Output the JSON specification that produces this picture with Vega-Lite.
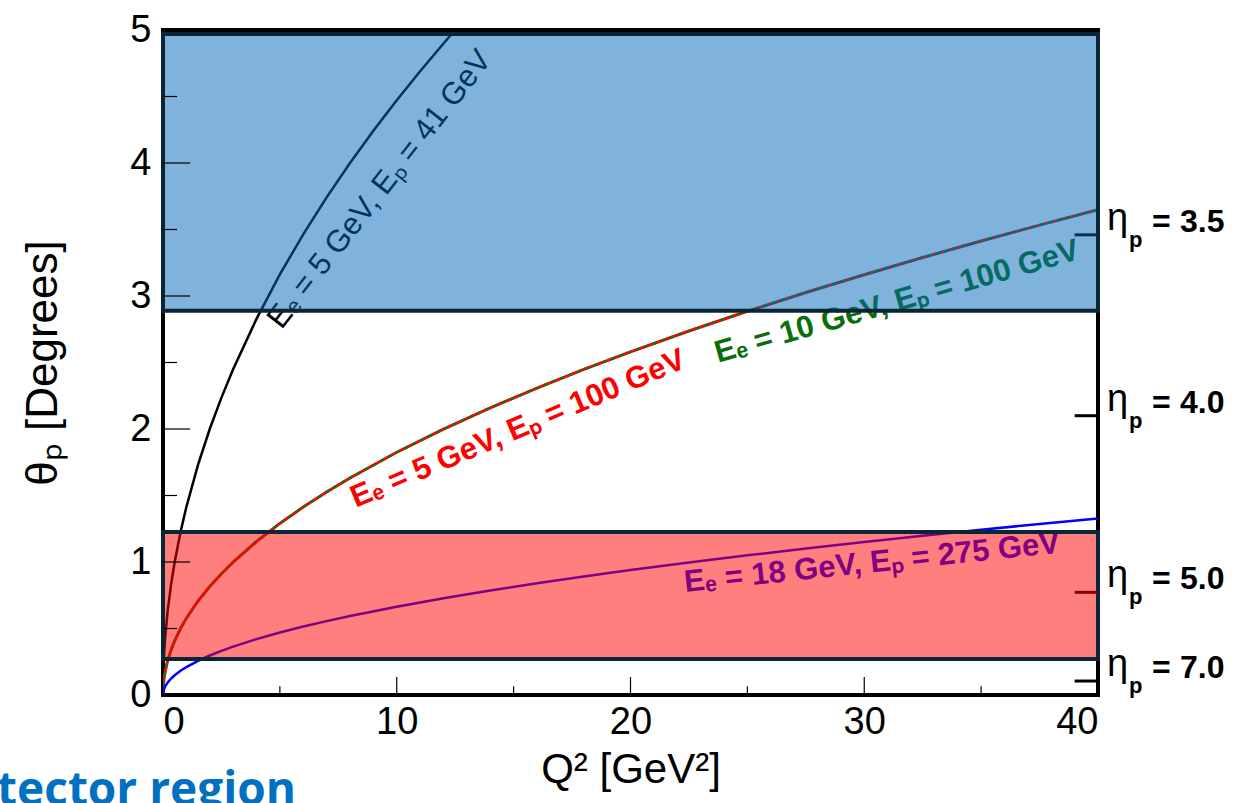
{
  "$schema": "https://vega.github.io/schema/vega-lite/v6.json",
  "width": 935,
  "height": 665,
  "autosize": {"type": "none"},
  "padding": {"left": 163, "top": 30, "right": 136, "bottom": 108},
  "background": "white",
  "config": {
    "view": {"stroke": "black", "strokeWidth": 4},
    "axis": {"labelFont": "Liberation Sans", "titleFont": "Liberation Sans", "labelColor": "black", "titleColor": "black", "grid": false, "ticks": false, "domain": false, "titleFontWeight": "normal"}
  },
  "datasets": {
    "c41": [
      {"q2": 0, "theta": 0}, {"q2": 0.02, "theta": 0.2}, {"q2": 0.05, "theta": 0.316}, {"q2": 0.1, "theta": 0.447},
      {"q2": 0.2, "theta": 0.632}, {"q2": 0.35, "theta": 0.837}, {"q2": 0.5, "theta": 1.0}, {"q2": 0.75, "theta": 1.225},
      {"q2": 1, "theta": 1.414}, {"q2": 1.5, "theta": 1.732}, {"q2": 2, "theta": 2.0}, {"q2": 2.5, "theta": 2.236},
      {"q2": 3, "theta": 2.449}, {"q2": 4, "theta": 2.828}, {"q2": 5, "theta": 3.162}, {"q2": 6, "theta": 3.464},
      {"q2": 7, "theta": 3.742}, {"q2": 8, "theta": 4.0}, {"q2": 9, "theta": 4.243}, {"q2": 10, "theta": 4.472},
      {"q2": 11, "theta": 4.69}, {"q2": 12, "theta": 4.899}, {"q2": 12.5, "theta": 5.0}
    ],
    "c100": [
      {"q2": 0, "theta": 0}, {"q2": 0.02, "theta": 0.0816}, {"q2": 0.05, "theta": 0.129}, {"q2": 0.1, "theta": 0.1825},
      {"q2": 0.2, "theta": 0.258}, {"q2": 0.35, "theta": 0.3414}, {"q2": 0.5, "theta": 0.408}, {"q2": 0.75, "theta": 0.4997},
      {"q2": 1, "theta": 0.577}, {"q2": 1.5, "theta": 0.7067}, {"q2": 2, "theta": 0.816}, {"q2": 2.5, "theta": 0.912},
      {"q2": 3, "theta": 0.9994}, {"q2": 4, "theta": 1.154}, {"q2": 5, "theta": 1.29}, {"q2": 6, "theta": 1.413},
      {"q2": 7, "theta": 1.527}, {"q2": 8, "theta": 1.632}, {"q2": 10, "theta": 1.825}, {"q2": 12, "theta": 1.999},
      {"q2": 14, "theta": 2.159}, {"q2": 16, "theta": 2.308}, {"q2": 18, "theta": 2.448}, {"q2": 20, "theta": 2.58},
      {"q2": 22.5, "theta": 2.737}, {"q2": 25, "theta": 2.885}, {"q2": 27.5, "theta": 3.026}, {"q2": 30, "theta": 3.16},
      {"q2": 32.5, "theta": 3.289}, {"q2": 35, "theta": 3.414}, {"q2": 37.5, "theta": 3.533}, {"q2": 40, "theta": 3.649}
    ],
    "c275": [
      {"q2": 0, "theta": 0}, {"q2": 0.02, "theta": 0.0297}, {"q2": 0.05, "theta": 0.047}, {"q2": 0.1, "theta": 0.0664},
      {"q2": 0.2, "theta": 0.0939}, {"q2": 0.35, "theta": 0.1242}, {"q2": 0.5, "theta": 0.1485}, {"q2": 0.75, "theta": 0.1819},
      {"q2": 1, "theta": 0.21}, {"q2": 1.5, "theta": 0.2572}, {"q2": 2, "theta": 0.297}, {"q2": 2.5, "theta": 0.332},
      {"q2": 3, "theta": 0.3637}, {"q2": 4, "theta": 0.42}, {"q2": 5, "theta": 0.4696}, {"q2": 6, "theta": 0.5144},
      {"q2": 7, "theta": 0.5556}, {"q2": 8, "theta": 0.594}, {"q2": 10, "theta": 0.664}, {"q2": 12, "theta": 0.7275},
      {"q2": 14, "theta": 0.7858}, {"q2": 16, "theta": 0.84}, {"q2": 18, "theta": 0.891}, {"q2": 20, "theta": 0.939},
      {"q2": 22.5, "theta": 0.996}, {"q2": 25, "theta": 1.05}, {"q2": 27.5, "theta": 1.101}, {"q2": 30, "theta": 1.15},
      {"q2": 32.5, "theta": 1.197}, {"q2": 35, "theta": 1.242}, {"q2": 37.5, "theta": 1.286}, {"q2": 40, "theta": 1.328}
    ],
    "bands": [
      {"band": "central", "lo": 2.89, "hi": 4.97},
      {"band": "far-forward", "lo": 0.27, "hi": 1.226}
    ],
    "eta": [
      {"eta": "3.5", "theta": 3.46},
      {"eta": "4.0", "theta": 2.1},
      {"eta": "5.0", "theta": 0.772},
      {"eta": "7.0", "theta": 0.105}
    ],
    "ymajor": [{"theta": 1}, {"theta": 2}, {"theta": 3}, {"theta": 4}],
    "yminor": [{"theta": 0.5}, {"theta": 1.5}, {"theta": 2.5}, {"theta": 3.5}, {"theta": 4.5}],
    "xmajor": [{"q2": 10}, {"q2": 20}, {"q2": 30}],
    "xminor": [{"q2": 5}, {"q2": 15}, {"q2": 25}, {"q2": 35}]
  },
  "layer": [
    {
      "data": {"name": "c41"},
      "mark": {"type": "line", "color": "black", "strokeWidth": 2.5, "clip": true},
      "encoding": {
        "x": {"field": "q2", "type": "quantitative", "scale": {"domain": [0, 40], "nice": false},
          "axis": {"values": [0, 10, 20, 30, 40], "format": "d", "labelFontSize": 38, "labelPadding": 8, "title": "Q² [GeV²]", "titleFontSize": 42, "titlePadding": 8}},
        "y": {"field": "theta", "type": "quantitative", "scale": {"domain": [0, 5], "nice": false},
          "axis": {"values": [0, 1, 2, 3, 4, 5], "format": "d", "labelFontSize": 38, "labelPadding": 12, "title": "θₚ [Degrees]", "titleFontSize": 44, "titlePadding": 64}}
      }
    },
    {
      "data": {"name": "c100"},
      "mark": {"type": "line", "color": "#ff0000", "strokeWidth": 3, "clip": true},
      "encoding": {
        "x": {"field": "q2", "type": "quantitative", "scale": {"domain": [0, 40], "nice": false}},
        "y": {"field": "theta", "type": "quantitative", "scale": {"domain": [0, 5], "nice": false}}
      }
    },
    {
      "data": {"name": "c100"},
      "mark": {"type": "line", "color": "#127512", "strokeWidth": 2.5, "strokeDash": [5, 4], "clip": true},
      "encoding": {
        "x": {"field": "q2", "type": "quantitative", "scale": {"domain": [0, 40], "nice": false}},
        "y": {"field": "theta", "type": "quantitative", "scale": {"domain": [0, 5], "nice": false}}
      }
    },
    {
      "data": {"name": "c275"},
      "mark": {"type": "line", "color": "#0000ff", "strokeWidth": 2.5, "clip": true},
      "encoding": {
        "x": {"field": "q2", "type": "quantitative", "scale": {"domain": [0, 40], "nice": false}},
        "y": {"field": "theta", "type": "quantitative", "scale": {"domain": [0, 5], "nice": false}}
      }
    },
    {
      "mark": {"type": "rule", "color": "#0000cc", "strokeWidth": 2.5},
      "encoding": {
        "x": {"datum": 0, "type": "quantitative", "scale": {"domain": [0, 40], "nice": false}},
        "x2": {"datum": 40},
        "y": {"datum": 0, "type": "quantitative", "scale": {"domain": [0, 5], "nice": false}}
      }
    },
    {
      "data": {"values": [{"q2": 9.28, "theta": 3.8, "label": "Eₑ = 5 GeV, Eₚ = 41 GeV"}]},
      "mark": {"type": "text", "angle": -52, "font": "Liberation Sans", "fontSize": 31, "color": "black", "align": "center", "baseline": "middle"},
      "encoding": {
        "x": {"field": "q2", "type": "quantitative", "scale": {"domain": [0, 40], "nice": false}},
        "y": {"field": "theta", "type": "quantitative", "scale": {"domain": [0, 5], "nice": false}},
        "text": {"field": "label"}
      }
    },
    {
      "data": {"values": [{"q2": 15.19, "theta": 2.0, "label": "Eₑ = 5 GeV, Eₚ = 100 GeV"}]},
      "mark": {"type": "text", "angle": -23, "font": "Liberation Sans", "fontSize": 31, "fontWeight": "bold", "color": "#ff0000", "align": "center", "baseline": "middle"},
      "encoding": {
        "x": {"field": "q2", "type": "quantitative", "scale": {"domain": [0, 40], "nice": false}},
        "y": {"field": "theta", "type": "quantitative", "scale": {"domain": [0, 5], "nice": false}},
        "text": {"field": "label"}
      }
    },
    {
      "data": {"values": [{"q2": 31.4, "theta": 2.955, "label": "Eₑ = 10 GeV, Eₚ = 100 GeV"}]},
      "mark": {"type": "text", "angle": -16, "font": "Liberation Sans", "fontSize": 31, "fontWeight": "bold", "color": "#0a6e0a", "align": "center", "baseline": "middle"},
      "encoding": {
        "x": {"field": "q2", "type": "quantitative", "scale": {"domain": [0, 40], "nice": false}},
        "y": {"field": "theta", "type": "quantitative", "scale": {"domain": [0, 5], "nice": false}},
        "text": {"field": "label"}
      }
    },
    {
      "data": {"values": [{"q2": 30.33, "theta": 0.99, "label": "Eₑ = 18 GeV, Eₚ = 275 GeV"}]},
      "mark": {"type": "text", "angle": -6, "font": "Liberation Sans", "fontSize": 31, "fontWeight": "bold", "color": "#0000ff", "align": "center", "baseline": "middle"},
      "encoding": {
        "x": {"field": "q2", "type": "quantitative", "scale": {"domain": [0, 40], "nice": false}},
        "y": {"field": "theta", "type": "quantitative", "scale": {"domain": [0, 5], "nice": false}},
        "text": {"field": "label"}
      }
    },
    {
      "data": {"name": "bands"},
      "mark": {"type": "rect", "fillOpacity": 0.5, "stroke": "#0a2636", "strokeWidth": 4, "strokeOpacity": 1},
      "encoding": {
        "x": {"datum": 0, "type": "quantitative", "scale": {"domain": [0, 40], "nice": false}},
        "x2": {"datum": 40},
        "y": {"field": "lo", "type": "quantitative", "scale": {"domain": [0, 5], "nice": false}},
        "y2": {"field": "hi"},
        "fill": {"field": "band", "type": "nominal", "scale": {"domain": ["central", "far-forward"], "range": ["#0068b8", "#ff0000"]}, "legend": null}
      }
    },
    {
      "data": {"name": "ymajor"},
      "mark": {"type": "rule", "color": "black", "strokeWidth": 1.2},
      "encoding": {
        "x": {"datum": 0, "type": "quantitative", "scale": {"domain": [0, 40], "nice": false}},
        "x2": {"datum": 1.16},
        "y": {"field": "theta", "type": "quantitative", "scale": {"domain": [0, 5], "nice": false}}
      }
    },
    {
      "data": {"name": "yminor"},
      "mark": {"type": "rule", "color": "black", "strokeWidth": 1.2},
      "encoding": {
        "x": {"datum": 0, "type": "quantitative", "scale": {"domain": [0, 40], "nice": false}},
        "x2": {"datum": 0.6},
        "y": {"field": "theta", "type": "quantitative", "scale": {"domain": [0, 5], "nice": false}}
      }
    },
    {
      "data": {"name": "xmajor"},
      "mark": {"type": "rule", "color": "black", "strokeWidth": 1.2},
      "encoding": {
        "x": {"field": "q2", "type": "quantitative", "scale": {"domain": [0, 40], "nice": false}},
        "y": {"datum": 0, "type": "quantitative", "scale": {"domain": [0, 5], "nice": false}},
        "y2": {"datum": 0.135}
      }
    },
    {
      "data": {"name": "xminor"},
      "mark": {"type": "rule", "color": "black", "strokeWidth": 1.2},
      "encoding": {
        "x": {"field": "q2", "type": "quantitative", "scale": {"domain": [0, 40], "nice": false}},
        "y": {"datum": 0, "type": "quantitative", "scale": {"domain": [0, 5], "nice": false}},
        "y2": {"datum": 0.065}
      }
    },
    {
      "data": {"name": "eta"},
      "mark": {"type": "rule", "strokeWidth": 3},
      "encoding": {
        "x": {"datum": 39.0, "type": "quantitative", "scale": {"domain": [0, 40], "nice": false}},
        "x2": {"datum": 40},
        "y": {"field": "theta", "type": "quantitative", "scale": {"domain": [0, 5], "nice": false}},
        "color": {"field": "eta", "type": "nominal", "scale": {"domain": ["3.5", "4.0", "5.0", "7.0"], "range": ["#0b2f4f", "#000000", "#8b0000", "#000000"]}, "legend": null}
      }
    },
    {
      "data": {"name": "eta"},
      "mark": {"type": "text", "text": "η", "font": "Liberation Sans", "fontSize": 38, "color": "black", "align": "left", "baseline": "alphabetic", "dx": 9, "dy": -5},
      "encoding": {
        "x": {"datum": 40, "type": "quantitative", "scale": {"domain": [0, 40], "nice": false}},
        "y": {"field": "theta", "type": "quantitative", "scale": {"domain": [0, 5], "nice": false}}
      }
    },
    {
      "data": {"name": "eta"},
      "mark": {"type": "text", "text": "p", "font": "Liberation Sans", "fontSize": 22, "fontWeight": "bold", "color": "black", "align": "left", "baseline": "alphabetic", "dx": 31, "dy": 12},
      "encoding": {
        "x": {"datum": 40, "type": "quantitative", "scale": {"domain": [0, 40], "nice": false}},
        "y": {"field": "theta", "type": "quantitative", "scale": {"domain": [0, 5], "nice": false}}
      }
    },
    {
      "data": {"name": "eta"},
      "mark": {"type": "text", "text": "=", "font": "Liberation Sans", "fontSize": 32, "fontWeight": "bold", "color": "black", "align": "left", "baseline": "alphabetic", "dx": 54, "dy": -3},
      "encoding": {
        "x": {"datum": 40, "type": "quantitative", "scale": {"domain": [0, 40], "nice": false}},
        "y": {"field": "theta", "type": "quantitative", "scale": {"domain": [0, 5], "nice": false}}
      }
    },
    {
      "data": {"name": "eta"},
      "mark": {"type": "text", "font": "Liberation Sans", "fontSize": 32, "fontWeight": "bold", "color": "black", "align": "left", "baseline": "alphabetic", "dx": 82, "dy": -3},
      "encoding": {
        "x": {"datum": 40, "type": "quantitative", "scale": {"domain": [0, 40], "nice": false}},
        "y": {"field": "theta", "type": "quantitative", "scale": {"domain": [0, 5], "nice": false}},
        "text": {"field": "eta", "type": "nominal"}
      }
    },
    {
      "data": {"values": [{"q2": 5.69, "theta": -0.83, "label": "Detector region"}]},
      "mark": {"type": "text", "font": "Open Sans", "fontSize": 46, "fontWeight": "bold", "color": "#0070c0", "align": "right", "baseline": "alphabetic"},
      "encoding": {
        "x": {"field": "q2", "type": "quantitative", "scale": {"domain": [0, 40], "nice": false}},
        "y": {"field": "theta", "type": "quantitative", "scale": {"domain": [0, 5], "nice": false}},
        "text": {"field": "label"}
      }
    }
  ]
}
